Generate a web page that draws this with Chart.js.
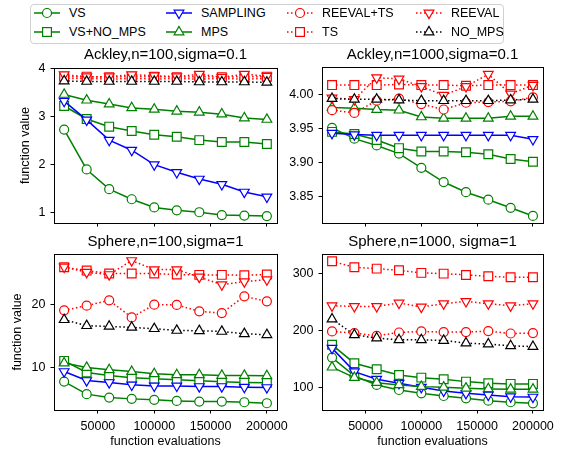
<!DOCTYPE html>
<html>
<head>
<meta charset="utf-8">
<script src="https://cdn.jsdelivr.net/npm/chart.js@4"></script>
<style>
body { margin: 0; width: 566px; height: 452px; background: #fff; position: relative; overflow: hidden; font-family: "Liberation Sans", Arial, sans-serif; }
canvas { position: absolute; }
#legendBox { position: absolute; left: 30px; top: 4px; width: 472px; height: 38px; border: 1px solid #d0d0d0; border-radius: 4px; background: #fff; }
.item { position: absolute; height: 16px; font-size: 12.5px; line-height: 16px; white-space: nowrap; color: #000; }
.item svg { position: absolute; left: 0; top: 0; }
.item span { position: absolute; left: 35px; top: 0; }
</style>
</head>
<body>
<div id="legendBox"></div>
<canvas id="c0"></canvas>
<canvas id="c1"></canvas>
<canvas id="c2"></canvas>
<canvas id="c3"></canvas>
<script>
const evals = [20000, 40000, 60000, 80000, 100000, 120000, 140000, 160000, 180000, 200000];
const seriesNames = ['VS', 'VS+NO_MPS', 'SAMPLING', 'MPS', 'REEVAL+TS', 'TS', 'REEVAL', 'NO_MPS'];

// one row per series, same order as seriesNames
const ackley100 = [
    [2.73, 1.90, 1.49, 1.28, 1.11, 1.05, 1.01, 0.95, 0.94, 0.93],
    [3.22, 2.95, 2.79, 2.70, 2.62, 2.58, 2.51, 2.47, 2.47, 2.43],
    [3.32, 2.93, 2.51, 2.30, 2.00, 1.84, 1.70, 1.59, 1.43, 1.33],
    [3.46, 3.34, 3.26, 3.18, 3.15, 3.11, 3.09, 3.05, 2.97, 2.94],
    [3.79, 3.79, 3.78, 3.79, 3.78, 3.79, 3.78, 3.79, 3.78, 3.79],
    [3.83, 3.83, 3.82, 3.83, 3.83, 3.82, 3.83, 3.82, 3.83, 3.83],
    [3.87, 3.83, 3.83, 3.87, 3.85, 3.83, 3.88, 3.82, 3.88, 3.84],
    [3.74, 3.73, 3.73, 3.73, 3.73, 3.73, 3.72, 3.72, 3.72, 3.71]
];
const ackley1000 = [
    [3.951, 3.935, 3.925, 3.913, 3.892, 3.871, 3.856, 3.845, 3.833, 3.821],
    [3.945, 3.942, 3.933, 3.921, 3.916, 3.916, 3.915, 3.912, 3.905, 3.901],
    [3.943, 3.941, 3.940, 3.940, 3.940, 3.940, 3.940, 3.940, 3.940, 3.934],
    [3.981, 3.980, 3.978, 3.977, 3.967, 3.965, 3.965, 3.965, 3.968, 3.968],
    [3.977, 3.973, 3.991, 3.994, 3.986, 3.978, 3.988, 3.989, 3.990, 3.996],
    [4.014, 4.014, 4.014, 4.015, 4.014, 4.014, 4.013, 4.014, 4.014, 4.014],
    [3.995, 3.993, 4.025, 4.023, 4.012, 3.999, 4.012, 4.030, 4.001, 4.014],
    [3.994, 3.993, 3.993, 3.992, 3.991, 3.991, 3.991, 3.991, 3.992, 3.993]
];
const sphere100 = [
    [7.68, 5.65, 5.10, 4.89, 4.73, 4.56, 4.45, 4.45, 4.35, 4.19],
    [11.0, 9.13, 8.65, 8.27, 8.11, 7.95, 7.79, 7.63, 7.52, 7.47],
    [9.29, 7.84, 7.52, 7.15, 6.98, 6.98, 6.87, 6.87, 6.77, 6.71],
    [10.65, 9.94, 9.56, 9.29, 8.92, 8.76, 8.76, 8.65, 8.65, 8.60],
    [19.13, 19.89, 20.74, 18.0, 20.05, 20.0, 18.97, 18.7, 21.39, 20.58],
    [26.06, 25.53, 25.05, 25.05, 25.05, 24.89, 24.84, 24.84, 24.78, 24.89],
    [26.13, 25.26, 24.89, 27.15, 25.69, 25.69, 24.5, 23.27, 23.76, 24.08],
    [17.63, 16.66, 16.55, 16.39, 16.18, 15.9, 15.85, 15.74, 15.37, 15.21]
];
const sphere1000 = [
    [152.9, 120.6, 104.8, 95.9, 90.1, 85.3, 81.3, 77.1, 74.3, 72.5],
    [175.3, 143.0, 132.4, 122.4, 117.6, 114.8, 110.6, 107.8, 106.6, 106.6],
    [169.5, 128.2, 114.8, 107.8, 100.7, 94.2, 90.1, 87.1, 84.1, 83.5],
    [136, 117.6, 108.8, 104.8, 101.8, 100.7, 98.9, 97.8, 97.2, 97.2],
    [198.8, 196, 191.2, 197, 198.8, 197.7, 197.7, 199.4, 195.2, 196],
    [322.2, 311.6, 309.3, 306.3, 301.8, 300.5, 298.2, 295.8, 294, 294],
    [244, 242.9, 242.9, 248.8, 241.8, 247.6, 251.7, 247.6, 244, 247.6],
    [220.6, 192.9, 187.1, 184.1, 184.1, 182.9, 178.3, 176.6, 173.5, 172.3]
];

const titles = ['Ackley,n=100,sigma=0.1', 'Ackley,n=1000,sigma=0.1', 'Sphere,n=100,sigma=1', 'Sphere,n=1000, sigma=1'];
const xLimits = [11000, 209000];
const xTicks = [50000, 100000, 150000, 200000];
const yLimits = [[0.786, 4.01], [3.8106, 4.0407], [3.1, 28.2], [60.7, 335]];
const yTicks = [[1, 2, 3, 4], [3.85, 3.90, 3.95, 4.00], [10, 20], [100, 200, 300]];
const yDecimals = [0, 2, 0, 0];

const FONT = "'Liberation Sans', Arial, sans-serif";
const GREEN = '#008000', BLUE = '#0000ff', RED = '#ff0000', BLACK = '#000000';
const DOT = [1.5, 2.5];

const styles = [
    { color: GREEN, marker: 'circle', dash: [] },
    { color: GREEN, marker: 'rect', dash: [] },
    { color: BLUE, marker: 'down', dash: [] },
    { color: GREEN, marker: 'up', dash: [] },
    { color: RED, marker: 'circle', dash: DOT },
    { color: RED, marker: 'rect', dash: DOT },
    { color: RED, marker: 'down', dash: DOT },
    { color: BLACK, marker: 'up', dash: DOT }
];

// canvas placement for each panel
const panels = [
    { data: ackley100, left: 0, top: 44, w: 300, h: 188, yW: 54, tT: 1.5, tB: 4.5, xH: 9, bottom: false, ylab: true, ylabPad: 18.5 },
    { data: ackley1000, left: 283, top: 44, w: 283, h: 188, yW: 39, tT: 1.5, tB: 3.5, xH: 9, bottom: false, ylab: false },
    { data: sphere100, left: 0, top: 232, w: 300, h: 220, yW: 54, tT: 1.3, tB: 2.7, xH: 42, bottom: true, ylab: true, ylabPad: 10.5 },
    { data: sphere1000, left: 283, top: 232, w: 283, h: 220, yW: 39, tT: 1.3, tB: 2.7, xH: 42, bottom: true, ylab: false }
];

const frame = {
    id: 'frame',
    afterDatasetsDraw(chart) {
        const a = chart.chartArea, c = chart.ctx;
        c.save();
        c.strokeStyle = '#000';
        c.lineWidth = 1;
        c.strokeRect(Math.round(a.left) + 0.5, Math.round(a.top) + 0.5, Math.round(a.right - a.left), Math.round(a.bottom - a.top));
        c.restore();
    }
};

function markerProps(m) {
    if (m === 'circle') return { pointStyle: 'circle', pointRadius: 4.5, pointRotation: 0 };
    if (m === 'rect') return { pointStyle: 'rect', pointRadius: 6.2, pointRotation: 0 };
    if (m === 'up') return { pointStyle: 'triangle', pointRadius: 5.6, pointRotation: 0 };
    return { pointStyle: 'triangle', pointRadius: 5.6, pointRotation: 180 };
}

panels.forEach((p, k) => {
    const cv = document.getElementById('c' + k);
    cv.width = p.w; cv.height = p.h;
    cv.style.left = p.left + 'px'; cv.style.top = p.top + 'px';
    cv.style.width = p.w + 'px'; cv.style.height = p.h + 'px';

    const datasets = p.data.map((vals, i) => Object.assign({
        label: seriesNames[i],
        data: vals.map((v, j) => ({ x: evals[j], y: v })),
        borderColor: styles[i].color,
        borderWidth: 1.5,
        borderDash: styles[i].dash,
        borderCapStyle: 'butt',
        pointBorderColor: styles[i].color,
        pointBackgroundColor: '#ffffff',
        pointBorderWidth: 1.2,
        tension: 0,
        fill: false,
        order: 8 - i,
        clip: false
    }, markerProps(styles[i].marker)));

    new Chart(cv, {
        type: 'line',
        data: { datasets },
        options: {
            responsive: false,
            animation: false,
            events: [],
            layout: { padding: { left: 0, right: p.w - p.yW - (k % 2 ? 221 : 223), top: 0, bottom: 0 } },
            plugins: {
                legend: { display: false },
                tooltip: { enabled: false },
                title: {
                    display: true, text: titles[k], fullSize: false, color: '#000',
                    font: { family: FONT, size: 15, weight: 'normal' },
                    padding: { top: p.tT, bottom: p.tB }
                }
            },
            scales: {
                x: {
                    type: 'linear', min: xLimits[0], max: xLimits[1],
                    afterBuildTicks: s => { s.ticks = xTicks.map(v => ({ value: v })); },
                    afterFit: s => { s.height = p.xH; s.paddingLeft = 0; s.paddingRight = 0; },
                    grid: { drawOnChartArea: false, drawTicks: true, tickLength: 3.5, color: '#000', tickColor: '#000' },
                    border: { color: '#000', width: 1 },
                    ticks: {
                        display: p.bottom, color: '#000', padding: 6, maxRotation: 0, autoSkip: false,
                        font: { family: FONT, size: 12.5 },
                        callback: v => String(v)
                    },
                    title: {
                        display: p.bottom, text: 'function evaluations', color: '#000',
                        font: { family: FONT, size: 12.5 }, padding: { top: 0, bottom: 2.8 }
                    }
                },
                y: {
                    type: 'linear', min: yLimits[k][0], max: yLimits[k][1],
                    afterBuildTicks: s => { s.ticks = yTicks[k].map(v => ({ value: v })); },
                    afterFit: s => { s.width = p.yW; s.paddingTop = 0; s.paddingBottom = 0; },
                    grid: { drawOnChartArea: false, drawTicks: true, tickLength: 3.5, color: '#000', tickColor: '#000' },
                    border: { color: '#000', width: 1 },
                    ticks: {
                        color: '#000', padding: 5, autoSkip: false,
                        font: { family: FONT, size: 12.5 },
                        callback: v => Number(v).toFixed(yDecimals[k])
                    },
                    title: {
                        display: p.ylab, text: 'function value', color: '#000',
                        font: { family: FONT, size: 12.5 }, padding: { top: p.ylabPad || 0, bottom: 0 }
                    }
                }
            }
        },
        plugins: [frame]
    });
});

// legend (matplotlib style, 4 columns, filled column by column)
const legendCols = [34, 166, 287, 416];
const legendRows = [13.3, 32.3];
function markerSvg(st) {
    const c = st.color, sw = 1.2;
    if (st.marker === 'circle') return `<circle cx="13" cy="8" r="4.5" fill="#fff" stroke="${c}" stroke-width="${sw}"/>`;
    if (st.marker === 'rect') return `<rect x="8.6" y="3.6" width="8.8" height="8.8" fill="#fff" stroke="${c}" stroke-width="${sw}"/>`;
    const r = 5.6, hw = r * Math.sqrt(3) / 2;
    if (st.marker === 'up') return `<polygon points="13,${8 - r} ${13 - hw},${8 + r / 2} ${13 + hw},${8 + r / 2}" fill="#fff" stroke="${c}" stroke-width="${sw}"/>`;
    return `<polygon points="13,${8 + r} ${13 - hw},${8 - r / 2} ${13 + hw},${8 - r / 2}" fill="#fff" stroke="${c}" stroke-width="${sw}"/>`;
}
seriesNames.forEach((name, i) => {
    const st = styles[i];
    const div = document.createElement('div');
    div.className = 'item';
    div.style.left = legendCols[Math.floor(i / 2)] + 'px';
    div.style.top = (legendRows[i % 2] - 8) + 'px';
    const dash = st.dash.length ? `stroke-dasharray="${st.dash.join(' ')}"` : '';
    div.innerHTML = `<svg width="26" height="16"><line x1="0" y1="8" x2="26" y2="8" stroke="${st.color}" stroke-width="1.5" ${dash}/>${markerSvg(st)}</svg><span>${name}</span>`;
    document.body.appendChild(div);
});
</script>
</body>
</html>
